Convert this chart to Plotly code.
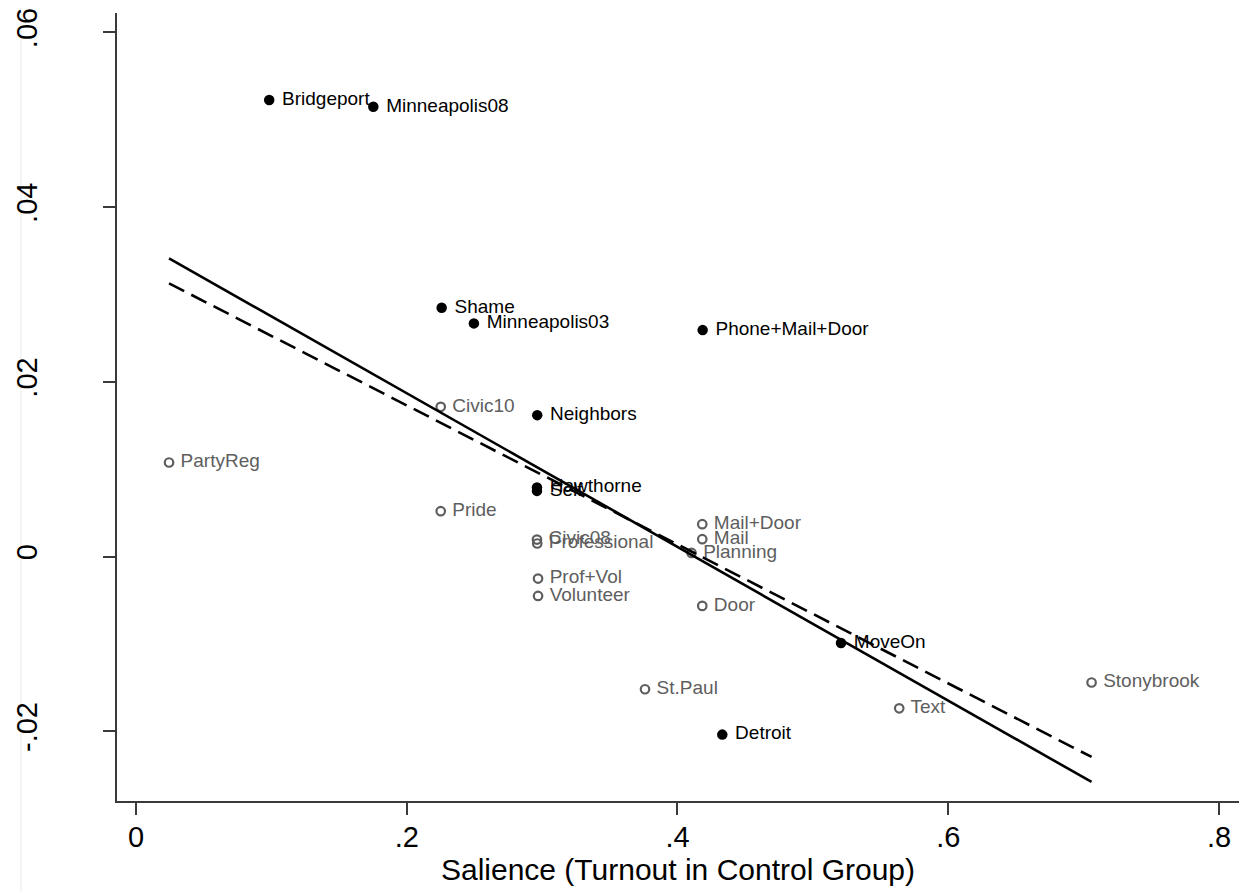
import plotly.graph_objects as go

# ---- data ----
black_names = ["Bridgeport", "Minneapolis08", "Shame", "Minneapolis03", "Phone+Mail+Door",
               "Neighbors", "Hawthorne", "Self", "MoveOn", "Detroit"]
black_x = [0.0984, 0.1753, 0.2258, 0.2496, 0.4186, 0.2964, 0.2962, 0.2962, 0.5208, 0.4331]
black_y = [0.05225, 0.05148, 0.02847, 0.02669, 0.02592, 0.01619, 0.00790, 0.00752, -0.00988, -0.02037]

grey_names = ["Civic10", "PartyReg", "Pride", "Civic08", "Professional", "Prof+Vol", "Volunteer",
              "Mail+Door", "Mail", "Planning", "Door", "St.Paul", "Text", "Stonybrook"]
grey_x = [0.2251, 0.0244, 0.2251, 0.2962, 0.2964, 0.2970, 0.2970,
          0.4183, 0.4183, 0.4104, 0.4183, 0.3760, 0.5638, 0.7059]
grey_y = [0.01714, 0.01077, 0.00520, 0.00195, 0.00150, -0.00251, -0.00450,
          0.00371, 0.00199, 0.00042, -0.00564, -0.01518, -0.01736, -0.01441]

fit_x = [0.0244, 0.7059]
fit_solid_y = [0.03413, -0.02579]
fit_dashed_y = [0.03127, -0.02293]

x_tickvals = [0, 0.2, 0.4, 0.6, 0.8]
x_ticktext = ["0", ".2", ".4", ".6", ".8"]
y_tickvals = [-0.02, 0, 0.02, 0.04, 0.06]
y_ticktext = ["-.02", "0", ".02", ".04", ".06"]

x_title = "Salience (Turnout in Control Group)"

FONT = "Liberation Sans, Arial, sans-serif"
GREY = "#5e5e5e"

fig = go.Figure()

fig.add_trace(go.Scatter(
    x=grey_x, y=grey_y, mode="markers+text", text=[" " + n for n in grey_names],
    textposition="middle right",
    marker=dict(symbol="circle-open", size=8.5, color=GREY, line=dict(width=2.2, color=GREY)),
    textfont=dict(family=FONT, size=19, color=GREY),
    showlegend=False, hoverinfo="skip"))

fig.add_trace(go.Scatter(
    x=black_x, y=black_y, mode="markers+text", text=[" " + n for n in black_names],
    textposition="middle right",
    marker=dict(symbol="circle", size=10.5, color="black", line=dict(width=0)),
    textfont=dict(family=FONT, size=19, color="black"),
    showlegend=False, hoverinfo="skip"))

fig.add_trace(go.Scatter(
    x=fit_x, y=fit_solid_y, mode="lines",
    line=dict(color="black", width=2.6), showlegend=False, hoverinfo="skip"))

fig.add_trace(go.Scatter(
    x=fit_x, y=fit_dashed_y, mode="lines",
    line=dict(color="black", width=2.6, dash="17px,8px"), showlegend=False, hoverinfo="skip"))

fig.update_layout(
    width=1240, height=884,
    margin=dict(l=109, r=9, t=5, b=91),
    paper_bgcolor="white", plot_bgcolor="white",
    font=dict(family=FONT, color="black"),
    xaxis=dict(
        range=[-0.01404, 0.8148], tickvals=x_tickvals, ticktext=x_ticktext,
        showgrid=False, zeroline=False, showline=True, linecolor="#3a3a3a", linewidth=2,
        ticks="outside", ticklen=12, tickwidth=1.5, tickcolor="#3a3a3a",
        ticklabelstandoff=-3, ticklabeloverflow="allow",
        tickfont=dict(family=FONT, size=29, color="black"),
        title=dict(text=x_title, font=dict(family=FONT, size=30, color="black"), standoff=0),
        automargin=False,
    ),
    yaxis=dict(
        range=[-0.02797, 0.06221], tickvals=y_tickvals, ticktext=y_ticktext,
        showgrid=False, zeroline=False, showline=True, linecolor="#3a3a3a", linewidth=2,
        ticks="outside", ticklen=12, tickwidth=1.5, tickcolor="#3a3a3a",
        tickangle=-90, ticklabelstandoff=54, ticklabeloverflow="allow",
        tickfont=dict(family=FONT, size=29, color="black"),
        automargin=False,
    ),
    shapes=[dict(type="rect", xref="paper", yref="paper",
                 x0=(21 - 117) / 1122, x1=(1244 - 117) / 1122,
                 y0=-0.2, y1=(800 - 5) / 788,
                 line=dict(color="#e6ebf0", width=1), fillcolor="rgba(0,0,0,0)", layer="below")],
)

fig.write_html("out.html")
